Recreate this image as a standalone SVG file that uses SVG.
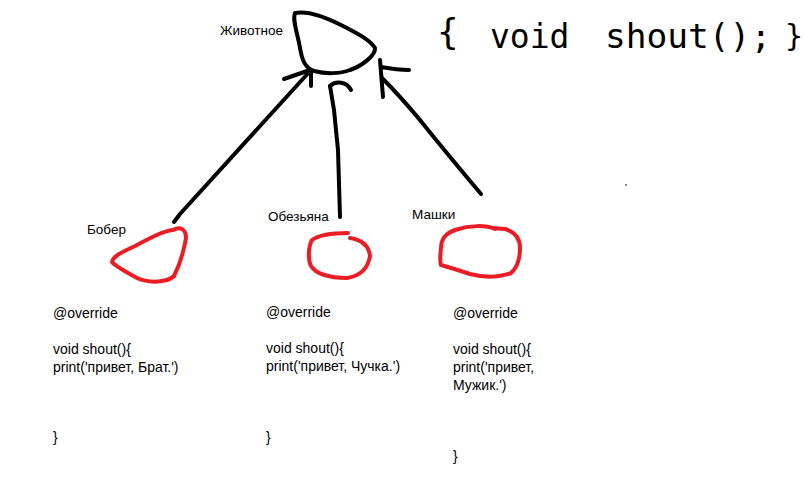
<svg xmlns="http://www.w3.org/2000/svg" width="805" height="483" viewBox="0 0 805 483">
<style>
.ink{fill:none;stroke:#000;stroke-width:4;stroke-linecap:round;stroke-linejoin:round}
.red{fill:none;stroke:#ed1c24;stroke-width:4;stroke-linecap:round;stroke-linejoin:round}
.lbl{font-family:"Liberation Sans",Arial,sans-serif;font-size:13.5px;fill:#000}
.code{font-family:"Liberation Sans",Arial,sans-serif;font-size:14px;fill:#000}
.hand{font-family:"DejaVu Sans Mono",monospace;fill:#000}
</style>
<rect width="805" height="483" fill="#fff"/>
<g id="animal">
<path class="ink" d="M295,13 C305,11 320,14 343,26 C360,35 370,40 375,48 C376,55 362,66 350,70 C340,74 325,74 314,71 C305,68 302,60 300,48 C298,35 292,20 295,13 Z"/>
<text class="lbl" x="220" y="35">Животное</text>
</g>
<g id="signature">
<text class="hand" x="437" y="44" font-size="36">{</text>
<text class="hand" x="490" y="48" font-size="33">void</text>
<text class="hand" x="605" y="48" font-size="34.5">shout();</text>
<text class="hand" x="785" y="46" font-size="30">}</text>
</g>
<g id="connectors">
<path class="ink" d="M174,222 L180,214 C220,170 270,115 311,70"/>
<path class="ink" d="M284,79 L310,70 M311,71 L311,86"/>
<path class="ink" d="M340,217 L338,150 L334,110 L330,86"/>
<path class="ink" d="M330,86 C336,80 347,82 351,90"/>
<path class="ink" d="M481,194 C465,175 440,145 420,120 C405,102 392,88 382,78"/>
<path class="ink" d="M380,60 L383,97 M381,67 C392,69 400,70 409,70"/>
</g>
<g id="bober">
<path class="red" d="M173,230 C180,226 186,229 186,238 C184,250 181,262 174,276 C168,282 150,284 137,278 C126,272 115,266 112,262 C113,256 122,252 135,246 C150,238 163,231 173,230"/>
<text class="lbl" x="87" y="234">Бобер</text>
</g>
<g id="monkey">
<path class="red" d="M348,233 C335,233 320,234 312,240 C308,247 308,260 311,266 C316,274 330,278 347,278 C360,276 368,268 370,256 C369,246 362,240 350,238"/>
<text class="lbl" x="268" y="221">Обезьяна</text>
</g>
<g id="mashki">
<path class="red" d="M495,229 C486,225 470,225 455,230 C444,234 441,240 441,248 C440,256 440,262 441,265 C448,267 458,270 470,274 C485,278 500,277 511,273 C518,267 520,258 520,248 C520,238 515,232 505,229 C500,228 496,229 493,228"/>
<text class="lbl" x="412" y="219">Машки</text>
</g>
<g id="code1" class="code">
<text x="53" y="318">@override</text>
<text x="53" y="354">void shout(){</text>
<text x="53" y="372">print('привет, Брат.')</text>
<text x="53" y="442">}</text>
</g>
<g id="code2" class="code">
<text x="266" y="317">@override</text>
<text x="266" y="353">void shout(){</text>
<text x="266" y="371">print('привет, Чучка.')</text>
<text x="266" y="442">}</text>
</g>
<g id="code3" class="code">
<text x="453" y="318">@override</text>
<text x="453" y="354">void shout(){</text>
<text x="453" y="372">print('привет,</text>
<text x="453" y="390">Мужик.')</text>
<text x="453" y="461">}</text>
</g>
<circle cx="626" cy="185" r="0.8" fill="#000"/>
</svg>
